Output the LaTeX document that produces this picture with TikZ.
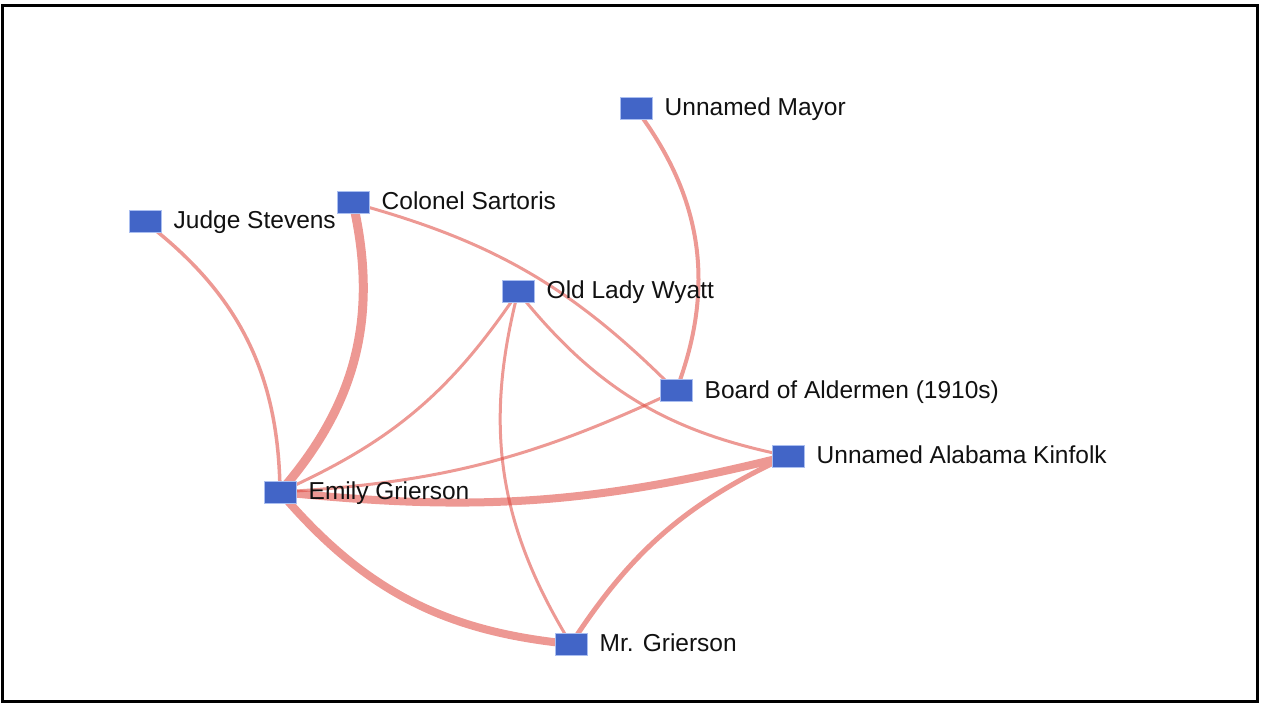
\documentclass[tikz,border=0pt]{standalone}
\usepackage{fontspec}
\setmainfont{Liberation Sans}
\definecolor{edgec}{RGB}{222,70,60}
\definecolor{edgesolid}{RGB}{237,152,147}
\definecolor{nodefill}{RGB}{66,101,199}
\definecolor{nodeline}{RGB}{170,190,240}
\definecolor{textc}{RGB}{17,17,17}
\begin{document}
\begin{tikzpicture}[x=1pt,y=1pt,
  sq/.style={draw=nodeline, line width=1pt, fill=nodefill, minimum width=32pt, minimum height=22pt, inner sep=0pt},
  lbl/.style={anchor=base west, inner sep=0pt, text=textc, font=\fontsize{24.5}{29}\selectfont},
  edge/.style={draw=edgec, draw opacity=0.55},
  thickedge/.style={draw=edgesolid},
  frame/.style={draw=black, line width=3pt}]
\useasboundingbox (0,0) rectangle (1265,710);
\draw[frame] (2.5,8.5) rectangle (1257.5,704.5);
% node positions
\coordinate (pmayor) at (636,601);
\coordinate (pjudge) at (145,488);
\coordinate (pcol) at (353,507);
\coordinate (pwyatt) at (518,418);
\coordinate (pboard) at (676,319);
\coordinate (pkin) at (788,254);
\coordinate (pemily) at (280,218);
\coordinate (pmrg) at (571,66);
% thick edges
\draw[thickedge, line width=9pt] (pcol) to[bend left=27] (pemily);
\draw[thickedge, line width=8pt] (pemily) to[bend right=10] (pkin);
\draw[thickedge, line width=8pt] (pemily) to[bend right=22] (pmrg);
\draw[thickedge, line width=5pt] (pkin) to[bend right=16] (pmrg);
% thin edges
\draw[edge, line width=3.5pt] (pjudge) to[bend left=26] (pemily);
\draw[edge, line width=3pt] (pcol) to[bend left=15] (pboard);
\draw[edge, line width=4pt] (pmayor) to[bend left=29] (pboard);
\draw[edge, line width=3pt] (pwyatt) to[bend left=16] (pemily);
\draw[edge, line width=3pt] (pwyatt) to[bend right=23] (pmrg);
\draw[edge, line width=3pt] (pwyatt) to[bend right=20] (pkin);
\draw[edge, line width=3pt] (pboard) to[bend left=11] (pemily);
% nodes
\node[sq] (mayor) at (pmayor) {};
\node[sq] (judge) at (pjudge) {};
\node[sq] (col) at (pcol) {};
\node[sq] (wyatt) at (pwyatt) {};
\node[sq] (board) at (pboard) {};
\node[sq] (kin) at (pkin) {};
\node[sq] (emily) at (pemily) {};
\node[sq] (mrg) at (pmrg) {};
% labels
\node[lbl] (mayorL) at ([xshift=12pt,yshift=-7pt]mayor.east) {Unnamed Mayor};
\node[lbl] (judgeL) at ([xshift=12pt,yshift=-7pt]judge.east) {Judge Stevens};
\node[lbl] (colL) at ([xshift=12pt,yshift=-7pt]col.east) {Colonel Sartoris};
\node[lbl] (wyattL) at ([xshift=12pt,yshift=-7pt]wyatt.east) {Old Lady Wyatt};
\node[lbl] (boardL) at ([xshift=12pt,yshift=-7pt]board.east) {Board of Aldermen (1910s)};
\node[lbl] (kinL) at ([xshift=12pt,yshift=-7pt]kin.east) {Unnamed Alabama Kinfolk};
\node[lbl] (emilyL) at ([xshift=12pt,yshift=-7pt]emily.east) {Emily Grierson};
\node[lbl] (mrgL) at ([xshift=12pt,yshift=-7pt]mrg.east) {Mr. Grierson};
\end{tikzpicture}
\end{document}
